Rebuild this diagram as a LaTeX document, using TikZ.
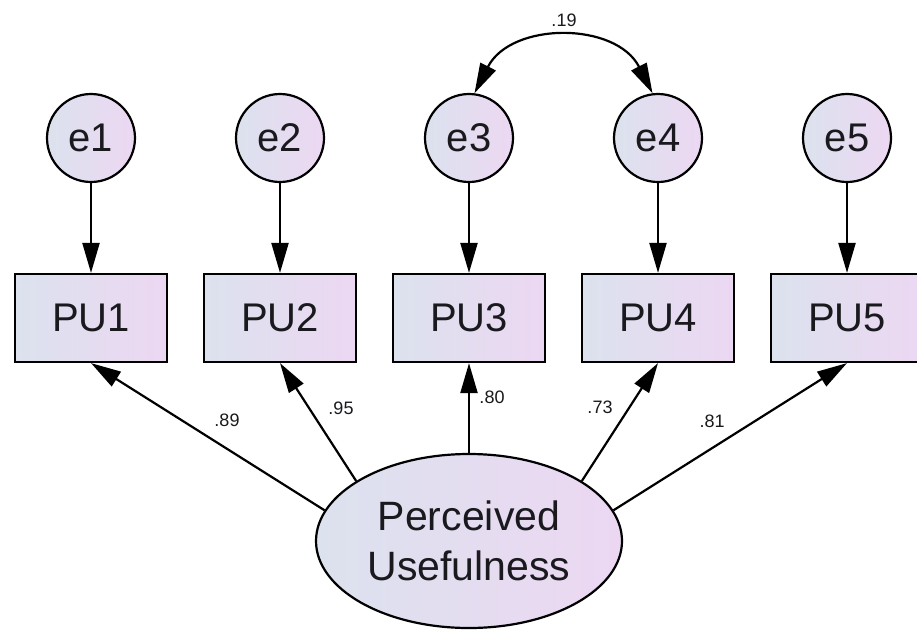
\documentclass[tikz,border=0pt]{standalone}
\usepackage{fontspec}
\setmainfont{Liberation Sans}
\usetikzlibrary{shapes.geometric,arrows.meta}
\definecolor{fillL}{RGB}{220,226,238}
\definecolor{fillR}{RGB}{236,215,242}
\definecolor{txt}{RGB}{25,25,30}
\begin{document}
\begin{tikzpicture}[x=1pt,y=-1pt,
  errnode/.style={circle,draw=black,line width=2.2pt,minimum size=88pt,inner sep=0pt,
    left color=fillL,right color=fillR,text=txt,font=\fontsize{40}{48}\selectfont},
  obsnode/.style={rectangle,draw=black,line width=2.2pt,minimum width=152pt,minimum height=88pt,
    inner sep=0pt,left color=fillL,right color=fillR,text=txt,font=\fontsize{40}{48}\selectfont},
  latnode/.style={ellipse,draw=black,line width=2.2pt,minimum width=306pt,minimum height=174pt,
    inner sep=0pt,left color=fillL,right color=fillR,text=txt,align=center,
    font=\fontsize{41}{50}\selectfont},
  conn/.style={line width=2.2pt,-{Triangle[length=30pt,width=17pt]}},
  biconn/.style={line width=2.2pt,{Triangle[length=30pt,width=17pt]}-{Triangle[length=30pt,width=17pt]}},
  coef/.style={text=txt,inner sep=0pt,font=\fontsize{18}{20}\selectfont}
]
\useasboundingbox (0,0) rectangle (917,632);
\fill[white] (0,0) rectangle (917,632);

% error terms
\node[errnode] (e1) at (91,138) {e1};
\node[errnode] (e2) at (280,138) {e2};
\node[errnode] (e3) at (469,138) {e3};
\node[errnode] (e4) at (658,138) {e4};
\node[errnode] (e5) at (847,138) {e5};

% observed variables
\node[obsnode] (pu1) at (91,318) {PU1};
\node[obsnode] (pu2) at (280,318) {PU2};
\node[obsnode] (pu3) at (469,318) {PU3};
\node[obsnode] (pu4) at (658,318) {PU4};
\node[obsnode] (pu5) at (847,318) {PU5};

% latent variable
\node[latnode] (pu) at (469,541) {Perceived\\Usefulness};

% error paths
\draw[conn] (e1.south) -- (pu1.north);
\draw[conn] (e2.south) -- (pu2.north);
\draw[conn] (e3.south) -- (pu3.north);
\draw[conn] (e4.south) -- (pu4.north);
\draw[conn] (e5.south) -- (pu5.north);

% loadings
\draw[conn] (pu.168) -- (pu1.south);
\draw[conn] (pu.152) -- (pu2.south);
\draw[conn] (pu.90) -- (pu3.south);
\draw[conn] (pu.28) -- (pu4.south);
\draw[conn] (pu.12) -- (pu5.south);

% covariance
\draw[biconn] (e3.83) to[out=63,in=117,looseness=1.16] (e4.97);

% coefficients
\node[coef] (c19) at (564,20) {.19};
\node[coef] (c89) at (227,420) {.89};
\node[coef] (c95) at (341,408) {.95};
\node[coef] (c80) at (492,397) {.80};
\node[coef] (c73) at (600,407) {.73};
\node[coef] (c81) at (712,421) {.81};
\end{tikzpicture}
\end{document}
